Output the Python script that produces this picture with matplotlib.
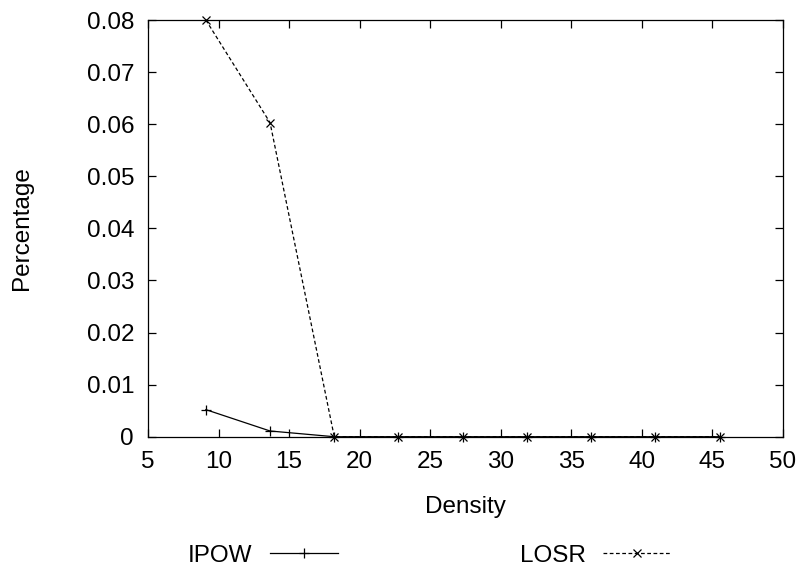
import matplotlib
matplotlib.use("Agg")
import matplotlib.pyplot as plt

plt.rcParams['font.family'] = ['Liberation Sans', 'DejaVu Sans']

density = [9.1, 13.65, 18.2, 22.75, 27.3, 31.85, 36.4, 40.95, 45.5]
ipow = [0.0052, 0.0011, 0, 0, 0, 0, 0, 0, 0]
losr = [0.08, 0.0603, 0, 0, 0, 0, 0, 0, 0]

fs = 17.5

fig = plt.figure(figsize=(8.03, 5.72), dpi=100)
ax = fig.add_axes([0.1843, 0.2365, 0.7908, 0.7285])

ax.plot(density, ipow, color='black', lw=0.9, marker='+', ms=7, mew=0.9,
        label='IPOW', clip_on=False)
ax.plot(density, losr, color='black', lw=0.9, ls=(0, (3, 2)), marker='x', ms=5.5,
        mew=0.9, label='LOSR', clip_on=False)

ax.set_xlim(5, 50)
ax.set_ylim(0, 0.08)
ax.set_xticks(range(5, 51, 5))
ax.set_yticks([0, 0.01, 0.02, 0.03, 0.04, 0.05, 0.06, 0.07, 0.08])
ax.set_yticklabels(['0', '0.01', '0.02', '0.03', '0.04', '0.05', '0.06', '0.07', '0.08'])
ax.tick_params(direction='in', top=True, right=True, length=6, width=0.9,
               labelsize=fs, pad=10)
for s in ax.spines.values():
    s.set_linewidth(0.9)

ax.set_xlabel('Density', fontsize=fs)
ax.set_ylabel('Percentage', fontsize=fs)
ax.xaxis.set_label_coords(0.5, -0.142)
ax.yaxis.set_label_coords(-0.181, 0.5)

fig.legend(loc='center', bbox_to_anchor=(0.535, 0.028), ncol=2, frameon=False,
           markerfirst=False, handlelength=2.8, handletextpad=0.7, numpoints=1,
           columnspacing=7.5, fontsize=fs, borderpad=0)

fig.savefig('out.png', dpi=100)
